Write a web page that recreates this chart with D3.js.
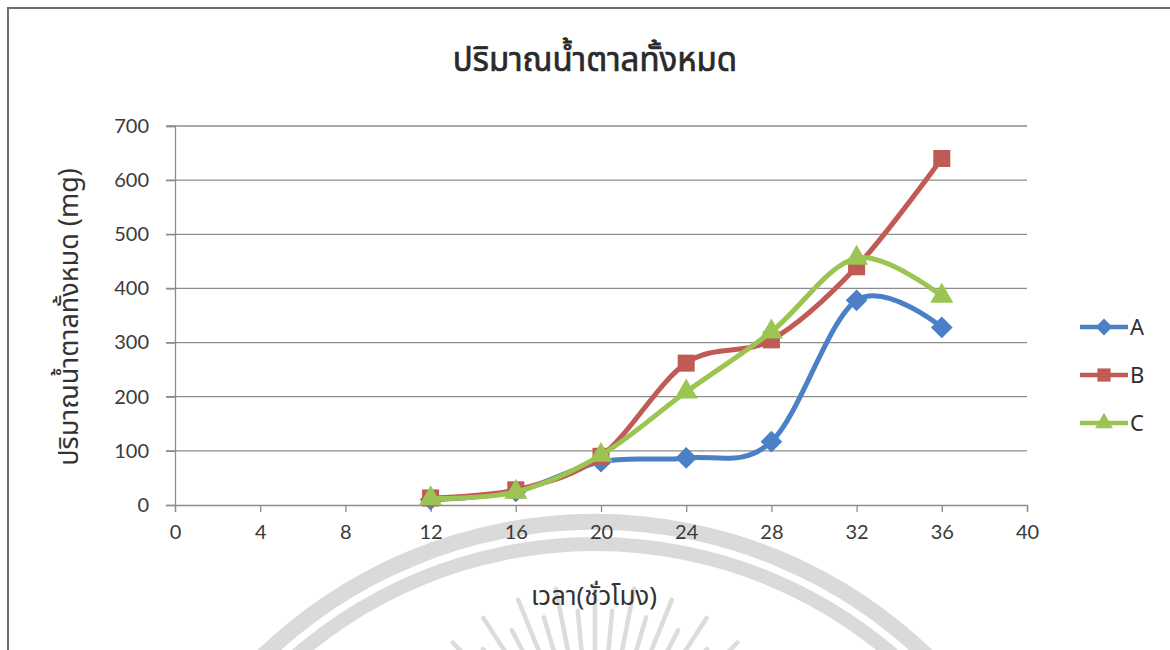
<!DOCTYPE html>
<html>
<head>
<meta charset="utf-8">
<script src="https://cdn.jsdelivr.net/npm/d3@7"></script>
<style>
  html, body { margin: 0; padding: 0; background: #fff; }
  svg { display: block; }
  text { font-family: "Noto Sans Thai", "Noto Sans", "DejaVu Sans", sans-serif; }
  .tick text { font-family: Lato, "Open Sans", "Noto Sans", sans-serif; }
</style>
</head>
<body>
<svg id="chart" width="1170" height="650"></svg>
<script>
// Sampling times (hours) and total sugar (mg) for each treatment
const hours = [12, 16, 20, 24, 28, 32, 36];
const seriesA = [10, 25, 80, 87, 117, 378, 328];
const seriesB = [13, 28, 90, 262, 305, 440, 640];
const seriesC = [12, 24, 92, 209, 320, 456, 386];
const seriesNames = ["A", "B", "C"];
const xTicks = [0, 4, 8, 12, 16, 20, 24, 28, 32, 36, 40];
const yTicks = [0, 100, 200, 300, 400, 500, 600, 700];

const titleText = "ปริมาณน้ำตาลทั้งหมด";
const xTitle = "เวลา(ชั่วโมง)";
const yTitle = "ปริมาณน้ำตาลทั้งหมด (mg)";

const colors = { A: "#4b80c6", B: "#c05a55", C: "#9cc453" };
const shapes = { A: d3.symbolDiamond2, B: d3.symbolSquare, C: d3.symbolTriangle };

const svg = d3.select("#chart");

// Emblem watermark printed on the page behind the chart
const wm = svg.append("g");
const arc = d3.arc();
[[470, 486], [449, 463]].forEach(([r0, r1]) => {
  wm.append("path")
    .attr("transform", "translate(595,1000)")
    .attr("fill", "#dadada")
    .attr("d", arc({ innerRadius: r0, outerRadius: r1, startAngle: -Math.PI / 2, endAngle: Math.PI / 2 }));
});
const rayAngles = d3.range(-66, 67, 5.5);
rayAngles.forEach((a, i) => {
  const t = a * Math.PI / 180;
  const r0 = i % 2 ? 110 : 90, r1 = i % 2 ? 180 : 205;
  wm.append("line")
    .attr("x1", 595 + r0 * Math.sin(t)).attr("y1", 790 - r0 * Math.cos(t))
    .attr("x2", 595 + r1 * Math.sin(t)).attr("y2", 790 - r1 * Math.cos(t))
    .attr("stroke", "#dcdcdc").attr("stroke-width", 4.5).attr("stroke-linecap", "round");
});

// Outer chart frame
svg.append("rect")
  .attr("x", 8).attr("y", 8).attr("width", 1200).attr("height", 700)
  .attr("fill", "none").attr("stroke", "#6e6e6e").attr("stroke-width", 2);

const x = d3.scaleLinear().domain([0, 40]).range([175, 1027]);
const y = d3.scaleLinear().domain([0, 700]).range([505, 126]);

// Horizontal gridlines
svg.append("g")
  .selectAll("line").data(yTicks.slice(1)).join("line")
  .attr("x1", 166).attr("x2", x(40))
  .attr("y1", d => y(d)).attr("y2", d => y(d))
  .attr("stroke", "#8c8c8c").attr("stroke-width", 1.3);

// Y axis
const yAxis = svg.append("g").attr("transform", `translate(${x(0)},0)`)
  .call(d3.axisLeft(y).tickValues(yTicks).tickSize(9).tickPadding(17));
yAxis.select(".domain").attr("stroke", "#8c8c8c").attr("stroke-width", 1.3);
yAxis.selectAll(".tick line").attr("stroke", "#8c8c8c").attr("stroke-width", 1.3);
yAxis.selectAll(".tick text").attr("font-size", 20).attr("fill", "#3a3a3a");

// X axis
const xAxis = svg.append("g").attr("transform", `translate(0,${y(0)})`)
  .call(d3.axisBottom(x).tickValues(xTicks).tickSize(7).tickPadding(13));
xAxis.select(".domain").attr("stroke", "#8c8c8c").attr("stroke-width", 1.3);
xAxis.selectAll(".tick line").attr("stroke", "#8c8c8c").attr("stroke-width", 1.3);
xAxis.selectAll(".tick text").attr("font-size", 20).attr("fill", "#3a3a3a");

// Titles
svg.append("text").attr("x", 595).attr("y", 71).attr("text-anchor", "middle")
  .attr("font-size", 33).attr("fill", "#2a2a2a")
  .attr("stroke", "#2a2a2a").attr("stroke-width", 0.7).text(titleText);
svg.append("text").attr("x", 594).attr("y", 605).attr("text-anchor", "middle")
  .attr("font-size", 26).attr("fill", "#333").text(xTitle);
svg.append("text").attr("transform", "translate(78,317) rotate(-90)").attr("text-anchor", "middle")
  .attr("font-size", 27).attr("fill", "#333").text(yTitle);

// Smoothed series lines with markers
const data = { A: seriesA, B: seriesB, C: seriesC };
const line = d3.line().curve(d3.curveCardinal.tension(0))
  .x(d => x(d[0])).y(d => y(d[1]));
const markerSize = { A: 300, B: 290, C: 230 };

seriesNames.forEach(name => {
  const pts = hours.map((h, i) => [h, data[name][i]]);
  const g = svg.append("g");
  g.append("path").attr("d", line(pts)).attr("fill", "none")
    .attr("stroke", colors[name]).attr("stroke-width", 5).attr("stroke-linejoin", "round");
  g.selectAll("path.m").data(pts).join("path").attr("class", "m")
    .attr("transform", d => `translate(${x(d[0])},${y(d[1])})`)
    .attr("d", d3.symbol().type(shapes[name]).size(markerSize[name]))
    .attr("fill", colors[name]);
});

// Legend
const legend = svg.append("g").attr("transform", "translate(1080,327)");
seriesNames.forEach((name, i) => {
  const row = legend.append("g").attr("transform", `translate(0,${i * 48})`);
  row.append("line").attr("x1", 0).attr("x2", 48).attr("stroke", colors[name]).attr("stroke-width", 4.5);
  row.append("path").attr("transform", "translate(24,0)")
    .attr("d", d3.symbol().type(shapes[name]).size(markerSize[name] * 0.6)).attr("fill", colors[name]);
  row.append("text").attr("x", 50).attr("y", 8).attr("font-size", 22).attr("fill", "#2e2e2e")
    .attr("font-family", "Lato, 'Open Sans', sans-serif").text(name);
});
</script>
</body>
</html>
